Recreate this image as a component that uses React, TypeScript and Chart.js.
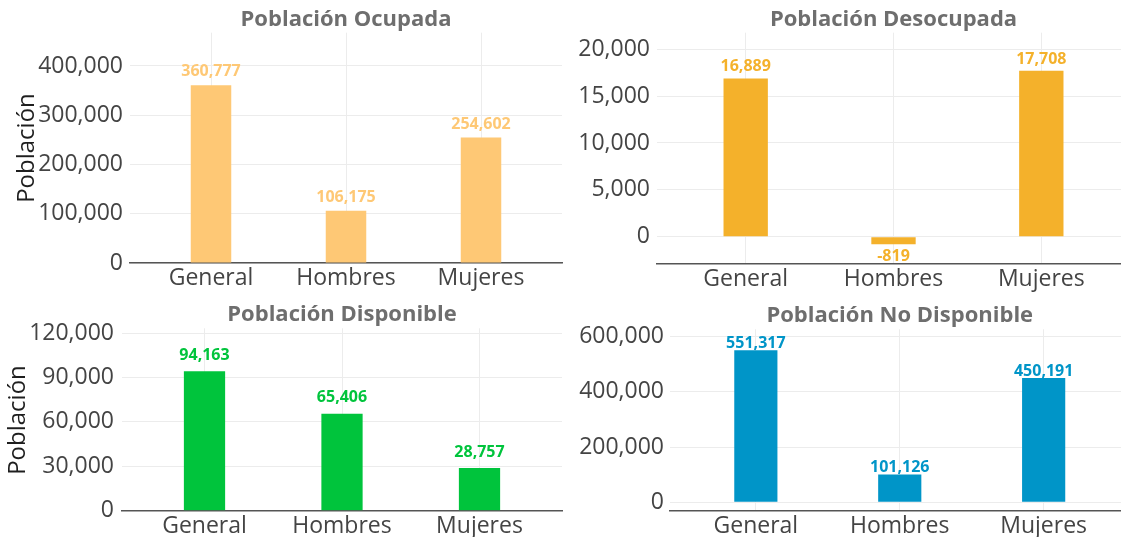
import React, { useEffect, useRef } from "react";
import { Chart, registerables } from "chart.js";

Chart.register(...registerables);

// ---------- data ----------
const categories = ["General", "Hombres", "Mujeres"];
const ocupadaValues = [360777, 106175, 254602];
const desocupadaValues = [16889, -819, 17708];
const disponibleValues = [94163, 65406, 28757];
const noDisponibleValues = [551317, 101126, 450191];

const ocupadaTicks = [0, 100000, 200000, 300000, 400000];
const desocupadaTicks = [0, 5000, 10000, 15000, 20000];
const disponibleTicks = [0, 30000, 60000, 90000, 120000];
const noDisponibleTicks = [0, 200000, 400000, 600000];

const panelTitles = [
  "Población Ocupada",
  "Población Desocupada",
  "Población Disponible",
  "Población No Disponible",
];
const yAxisTitle = "Población";

// ---------- layout / style ----------
const CANVAS_W = 1140;
const CANVAS_H = 537;
const FONT = '"Open Sans", "Noto Sans", sans-serif';

type Panel = {
  values: number[];
  ticks: number[];
  title: string;
  color: string;
  area: { l: number; r: number; t: number; b: number };
  yMin: number;
  yMax: number;
  labelOffset: number;
  negOffset: number;
  tickPad: number;
  yTitlePos?: { x: number; y: number };
};

const panels: Panel[] = [
  {
    values: ocupadaValues,
    ticks: ocupadaTicks,
    title: panelTitles[0],
    color: "#FEC875",
    area: { l: 130, r: 562, t: 32.7, b: 263 },
    yMin: 0,
    yMax: 467600,
    labelOffset: 9,
    negOffset: 17,
    tickPad: 7,
    yTitlePos: { x: 27, y: 148 },
  },
  {
    values: desocupadaValues,
    ticks: desocupadaTicks,
    title: panelTitles[1],
    color: "#F4B12B",
    area: { l: 657, r: 1130, t: 32.7, b: 263.3 },
    yMin: -2848,
    yMax: 21777,
    labelOffset: 7,
    negOffset: 17,
    tickPad: 7,
  },
  {
    values: disponibleValues,
    ticks: disponibleTicks,
    title: panelTitles[2],
    color: "#00C43C",
    area: { l: 122, r: 562, t: 328.3, b: 510.7 },
    yMin: 0,
    yMax: 123200,
    labelOffset: 11.5,
    negOffset: 17,
    tickPad: 8,
    yTitlePos: { x: 18.5, y: 420 },
  },
  {
    values: noDisponibleValues,
    ticks: noDisponibleTicks,
    title: panelTitles[3],
    color: "#0095C8",
    area: { l: 669.5, r: 1130, t: 329.3, b: 510.7 },
    yMin: -30400,
    yMax: 626800,
    labelOffset: 2,
    negOffset: 17,
    tickPad: 5.5,
  },
];

const fmt = (v: number) => v.toLocaleString("en-US");

function makeChart(canvas: HTMLCanvasElement, p: Panel) {
  const textPlugin = {
    id: "panelText",
    afterDatasetsDraw(chart: any) {
      const ctx = chart.ctx as CanvasRenderingContext2D;
      const meta = chart.getDatasetMeta(0);
      ctx.save();
      ctx.font = `bold 16px ${FONT}`;
      ctx.fillStyle = p.color;
      ctx.textAlign = "center";
      ctx.textBaseline = "alphabetic";
      meta.data.forEach((bar: any, i: number) => {
        const v = p.values[i];
        if (v >= 0) ctx.fillText(fmt(v), bar.x, bar.y - p.labelOffset);
        else ctx.fillText(fmt(v), bar.x, bar.y + p.negOffset);
      });
      ctx.restore();
    },
    afterDraw(chart: any) {
      const ctx = chart.ctx as CanvasRenderingContext2D;
      const ca = chart.chartArea;
      ctx.save();
      ctx.font = `bold 22px ${FONT}`;
      ctx.fillStyle = "#6e6e6e";
      ctx.textAlign = "center";
      ctx.textBaseline = "alphabetic";
      ctx.fillText(p.title, (ca.left + ca.right) / 2, ca.top - 7);
      if (p.yTitlePos) {
        ctx.translate(p.yTitlePos.x, p.yTitlePos.y);
        ctx.rotate(-Math.PI / 2);
        ctx.font = `24px ${FONT}`;
        ctx.fillStyle = "#1e1e1e";
        ctx.textBaseline = "middle";
        ctx.fillText(yAxisTitle, 0, 0);
      }
      ctx.restore();
    },
  };

  return new Chart(canvas, {
    type: "bar",
    data: {
      datasets: [
        {
          data: p.values.map((v, i) => ({ x: i, y: v })),
          backgroundColor: p.color,
          borderWidth: 0,
          barPercentage: 0.3,
          categoryPercentage: 1,
        },
      ],
    },
    options: {
      responsive: false,
      animation: false,
      devicePixelRatio: 1,
      layout: {
        padding: {
          left: 0,
          bottom: 0,
          top: p.area.t,
          right: CANVAS_W - p.area.r,
        },
      },
      plugins: {
        legend: { display: false },
        tooltip: { enabled: false },
        title: { display: false },
      },
      scales: {
        x: {
          type: "linear",
          min: -0.6,
          max: 2.6,
          offset: false,
          afterBuildTicks: (s: any) => {
            s.ticks = categories.map((_, i) => ({ value: i }));
          },
          afterFit: (s: any) => {
            s.height = CANVAS_H - p.area.b;
          },
          ticks: {
            callback: (v: any) => categories[v] ?? "",
            font: { family: FONT, size: 23 },
            color: "#444444",
            padding: 2,
            maxRotation: 0,
            autoSkip: false,
          },
          grid: {
            color: "#ececec",
            lineWidth: 1,
            drawTicks: false,
            offset: false,
          },
          border: { display: true, color: "#555555", width: 1.5 },
        },
        y: {
          type: "linear",
          min: p.yMin,
          max: p.yMax,
          afterBuildTicks: (s: any) => {
            s.ticks = p.ticks.map((v) => ({ value: v }));
          },
          afterFit: (s: any) => {
            s.width = p.area.l;
          },
          ticks: {
            callback: (v: any) => fmt(Number(v)),
            font: { family: FONT, size: 23 },
            color: "#444444",
            padding: p.tickPad,
          },
          grid: {
            color: "#ececec",
            lineWidth: 1,
            drawTicks: false,
          },
          border: { display: false },
        },
      },
    } as any,
    plugins: [textPlugin],
  });
}

function PanelCanvas({ panel }: { panel: Panel }) {
  const ref = useRef<HTMLCanvasElement | null>(null);
  useEffect(() => {
    if (!ref.current) return;
    const chart = makeChart(ref.current, panel);
    return () => chart.destroy();
  }, [panel]);
  return (
    <canvas
      ref={ref}
      width={CANVAS_W}
      height={CANVAS_H}
      style={{
        position: "absolute",
        left: 0,
        top: 0,
        width: CANVAS_W,
        height: CANVAS_H,
      }}
    />
  );
}

export default function App() {
  return (
    <div
      style={{
        position: "absolute",
        left: 0,
        top: 0,
        width: 1121,
        height: 537,
        overflow: "hidden",
        background: "#ffffff",
      }}
    >
      {panels.map((p, i) => (
        <PanelCanvas key={i} panel={p} />
      ))}
    </div>
  );
}
